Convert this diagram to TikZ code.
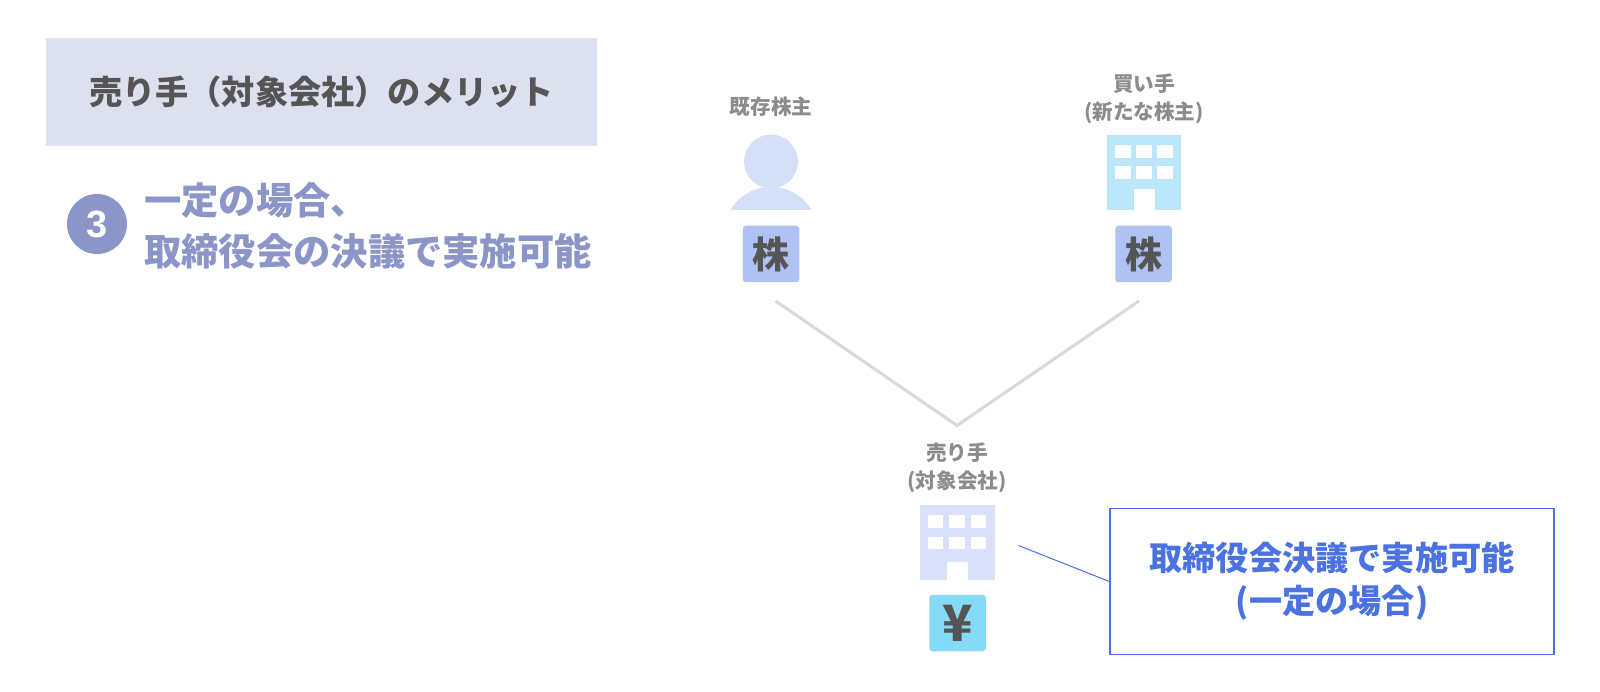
\documentclass[tikz,border=0pt]{standalone}
\usepackage{fontspec}
\setmainfont{Noto Sans CJK JP}
\newfontfamily\digitfont{Liberation Sans}
\usepackage{tikz}
\usetikzlibrary{positioning}

\definecolor{headfill}{HTML}{DDE0EE}
\definecolor{meritblue}{HTML}{8B95C7}
\definecolor{inkgray}{HTML}{555555}
\definecolor{labelgray}{HTML}{8C8C8C}
\definecolor{personblue}{HTML}{D5E0F8}
\definecolor{buyerblue}{HTML}{BCE6FA}
\definecolor{sellerblue}{HTML}{D8E1F8}
\definecolor{stockblue}{HTML}{AEC3F3}
\definecolor{yencyan}{HTML}{85DAF8}
\definecolor{noteblue}{HTML}{4A72E0}
\definecolor{linkgray}{HTML}{D9D9D9}

\tikzset{
	partylabel/.style={font=\fontsize{20.6}{28}\selectfont\bfseries,text=labelgray,align=center,inner sep=0pt},
	tokenbox/.style={rounded corners=3pt,minimum width=56.5pt,minimum height=56.5pt,inner sep=0pt,text=inkgray,font=\fontsize{37}{37}\selectfont\bfseries},
	linkline/.style={draw=linkgray,line width=3pt},
	windowpane/.style={fill=white}
}

\begin{document}
\begin{tikzpicture}[x=1pt,y=-1pt]
	\useasboundingbox (0,0) rectangle (1600,692);

	% left panel
	\node [fill=headfill,minimum width=551pt,minimum height=108pt,inner sep=0pt,text=inkgray,font=\fontsize{33.2}{33.2}\selectfont\bfseries] (title) at (321.5,92) {売り手（対象会社）のメリット};
	\node [circle,fill=meritblue,minimum size=60pt,inner sep=0pt,text=white,font=\digitfont\fontsize{38}{38}\selectfont\bfseries] (badge) at (97,224) {3};
	\node [anchor=west,inner sep=0pt,text=meritblue,font=\fontsize{37.3}{37.3}\selectfont\bfseries] (meritA) at (144,200) {一定の場合、};
	\node [anchor=west,inner sep=0pt,text=meritblue,font=\fontsize{37.3}{37.3}\selectfont\bfseries] (meritB) at (144,251) {取締役会の決議で実施可能};

	% existing shareholder
	\node [partylabel] (holderlabel) at (771,107) {既存株主};
	\fill [personblue] (730.5,210) arc [start angle=210.5,end angle=329.5,radius=47] -- cycle;
	\fill [personblue] (771,161.5) circle [radius=27];
	\node [tokenbox,fill=stockblue] (holderstock) at (771,254) {株};

	% buyer
	\node [partylabel] (buyerlabel) at (1144,99) {買い手\\(新たな株主)};
	\fill [buyerblue] (1107,135) rectangle (1180.5,210);
	\fill [windowpane] (1114.5,145.5) rectangle (1130.5,158);
	\fill [windowpane] (1135.5,145.5) rectangle (1151.5,158);
	\fill [windowpane] (1156.5,145.5) rectangle (1172.5,158);
	\fill [windowpane] (1114.5,166.5) rectangle (1130.5,179);
	\fill [windowpane] (1135.5,166.5) rectangle (1151.5,179);
	\fill [windowpane] (1156.5,166.5) rectangle (1172.5,179);
	\fill [windowpane] (1133.5,189) rectangle (1154.5,210);
	\node [tokenbox,fill=stockblue] (buyerstock) at (1143.5,254) {株};

	% seller
	\node [partylabel] (sellerlabel) at (957,468) {売り手\\(対象会社)};
	\fill [sellerblue] (920,505) rectangle (994.5,580);
	\fill [windowpane] (928,515) rectangle (943,528);
	\fill [windowpane] (949,515) rectangle (965,528);
	\fill [windowpane] (971,515) rectangle (986,528);
	\fill [windowpane] (928,536.5) rectangle (943,549);
	\fill [windowpane] (949,536.5) rectangle (965,549);
	\fill [windowpane] (971,536.5) rectangle (986,549);
	\fill [windowpane] (947,562) rectangle (967.5,580);
	\node [tokenbox,fill=yencyan,font=\fontsize{50}{50}\selectfont\bfseries] (sellercash) at (957.5,623) {¥};

	% links
	\coordinate (holderend) at (775.5,301);
	\coordinate (buyerend) at (1139,301);
	\coordinate (joint) at (957,425.5);
	\draw [linkline] (holderend) -- (joint) -- (buyerend);

	% note
	\node [draw=noteblue,line width=1.3pt,minimum width=444pt,minimum height=146.5pt,inner sep=0pt,align=center,text=noteblue,font=\fontsize{33.2}{43}\selectfont\bfseries] (note) at (1332,581.5) {取締役会決議で実施可能\\(一定の場合)};
	\coordinate (noteend) at (1018.5,545.5);
	\draw [draw=noteblue,line width=1pt] (noteend) -- (note.west);
\end{tikzpicture}
\end{document}
